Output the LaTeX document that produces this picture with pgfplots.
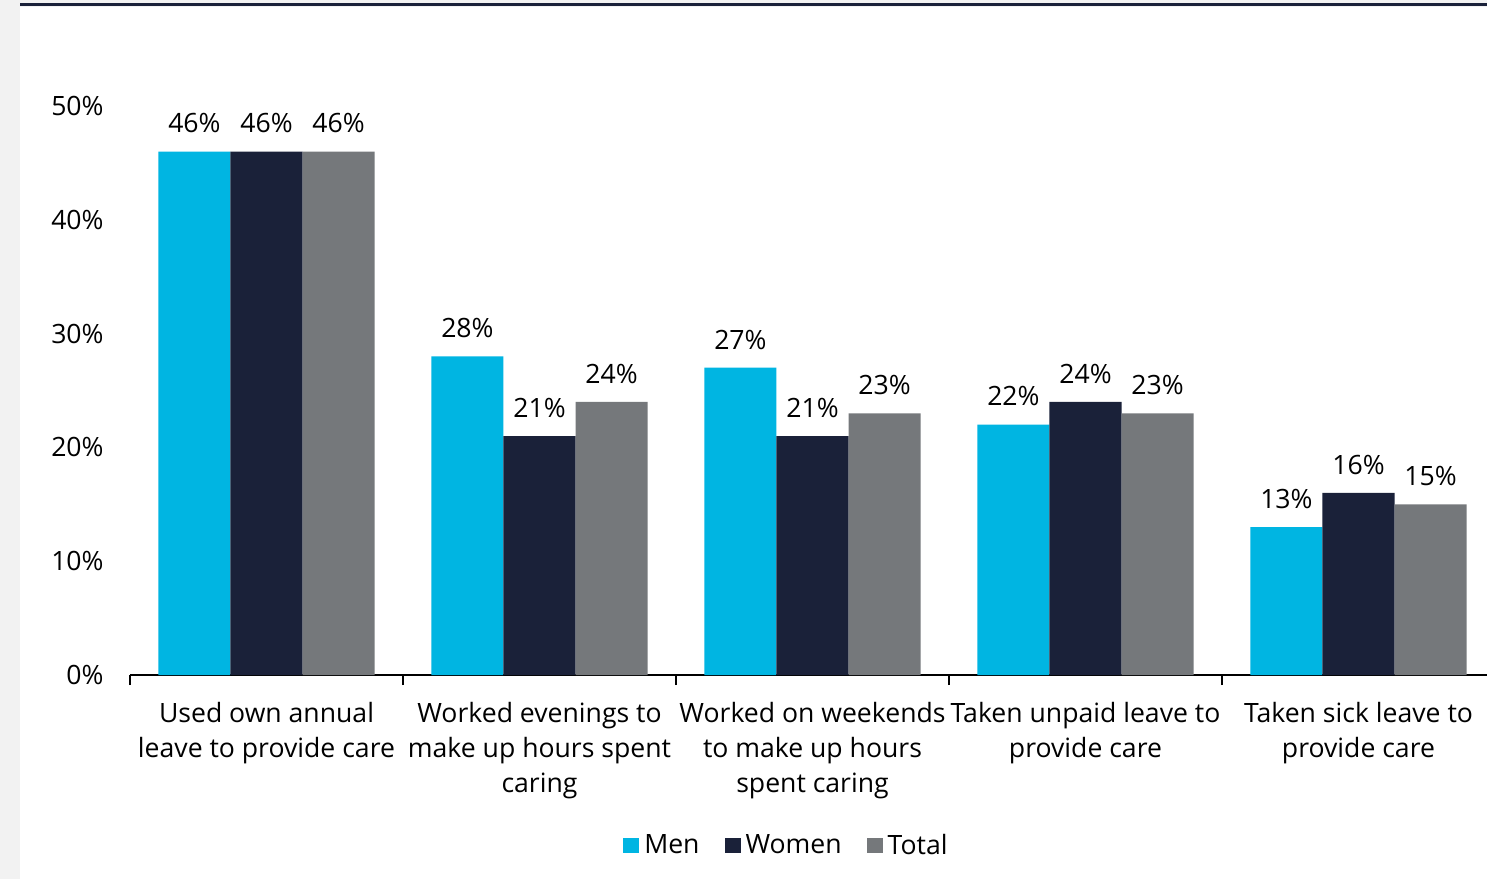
\documentclass[border=0pt]{standalone}
\usepackage{fontspec}
\setmainfont{Open Sans}
\usepackage{pgfplots}
\pgfplotsset{compat=1.18}

\definecolor{cmen}{HTML}{00B5E2}
\definecolor{cwomen}{HTML}{1A2139}
\definecolor{ctotal}{HTML}{75787B}
\definecolor{cstrip}{HTML}{F2F2F2}

\pgfplotsset{
  sqlegend/.style={legend image code/.code={\fill[##1] (0pt,-3.75pt) rectangle (8pt,3.75pt);}},
}
\newcommand{\lblfont}{\fontsize{13.3}{17.5}\selectfont}

\begin{document}
\begin{tikzpicture}
% page frame: 1487x879 px at 0.5pt per px
\path[use as bounding box] (0,0) rectangle (743.5pt,439.5pt);
\fill[cstrip] (0,0) rectangle (743.5pt,439.5pt);
\fill[white] (10pt,0) rectangle (743.5pt,436.2pt);
\draw[cwomen, line width=1.5pt] (10pt,437pt) -- (743.5pt,437pt);

\begin{axis}[
    at={(65pt,102pt)}, anchor=south west,
    scale only axis,
    width=682.5pt, height=284.5pt,
    ybar=0pt,
    bar width=0.264,
    xmin=-0.5, xmax=4.5,
    ymin=0, ymax=50,
    clip=false,
    axis x line*=bottom,
    axis y line*=left,
    y axis line style={draw=none},
    x axis line style={-, line width=1pt},
    ytick={0,10,20,30,40,50},
    yticklabels={0\%,10\%,20\%,30\%,40\%,50\%},
    ytick style={draw=none},
    yticklabel style={anchor=east, inner sep=0pt, xshift=-8pt},
    xtick={-0.5,0.5,1.5,2.5,3.5,4.5},
    x tick label as interval,
    xticklabels={{Used own annual\\leave to provide care},
                 {Worked evenings to\\make up hours spent\\caring},
                 {Worked on weekends\\to make up hours\\spent caring},
                 {Taken unpaid leave to\\provide care},
                 {Taken sick leave to\\provide care}},
    xticklabel style={align=center, anchor=north, inner sep=0pt, yshift=-8.5pt},
    xtick style={draw=black, line width=1pt},
    tick align=outside,
    major tick length=5pt,
    tick label style={font=\lblfont},
    /pgf/number format/assume math mode=true,
    nodes near coords={\pgfmathprintnumber{\pgfplotspointmeta}\%},
    nodes near coords style={font=\lblfont, anchor=south, inner sep=0pt, yshift=9pt},
    legend columns=3,
    legend style={at={(axis description cs:0.482,-0.3005)}, anchor=center,
        draw=none, fill=none, font=\lblfont,
        /tikz/every even column/.append style={column sep=10pt},
        nodes={inner sep=2.5pt}},
]
\addplot[fill=cmen, draw=none, sqlegend]
    coordinates {(0,46) (1,28) (2,27) (3,22) (4,13)};
\addplot[fill=cwomen, draw=none, sqlegend]
    coordinates {(0,46) (1,21) (2,21) (3,24) (4,16)};
\addplot[fill=ctotal, draw=none, sqlegend]
    coordinates {(0,46) (1,24) (2,23) (3,23) (4,15)};
\legend{Men,Women,Total}
\end{axis}
\end{tikzpicture}
\end{document}
